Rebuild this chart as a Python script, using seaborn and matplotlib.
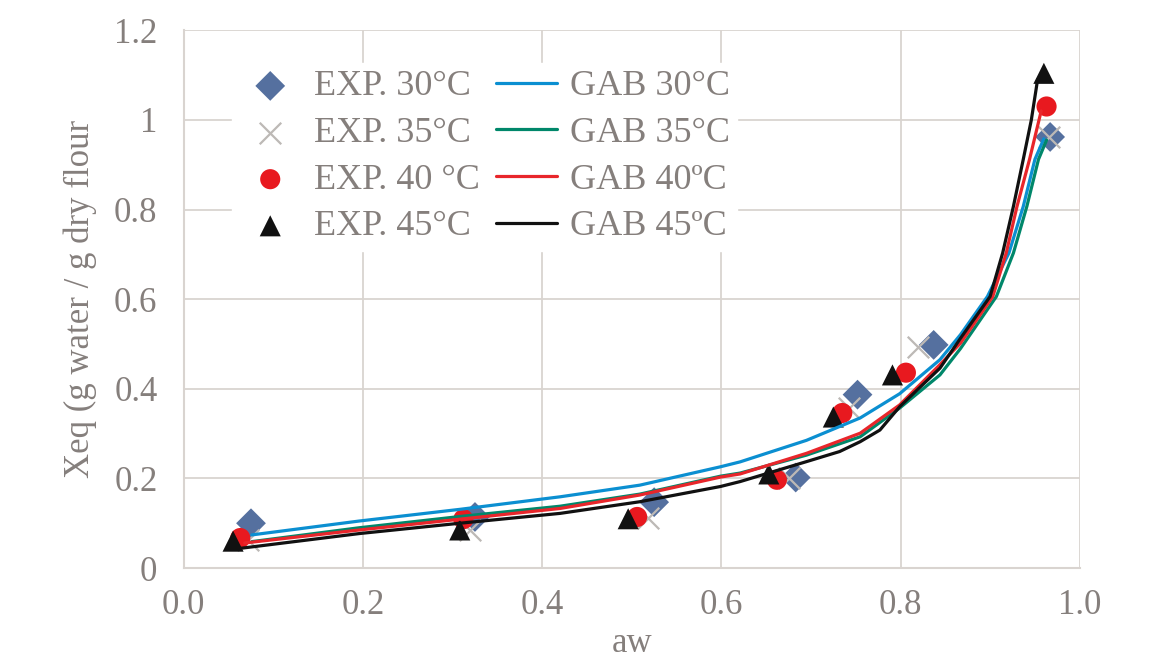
import pandas as pd
import matplotlib.pyplot as plt
import seaborn as sns

exp30_aw = [0.075, 0.325, 0.525, 0.683, 0.752, 0.837, 0.967]
exp30_x = [0.100, 0.114, 0.147, 0.202, 0.387, 0.498, 0.962]
exp35_aw = [0.072, 0.320, 0.518, 0.675, 0.742, 0.820, 0.966]
exp35_x = [0.063, 0.085, 0.112, 0.200, 0.358, 0.494, 0.962]
exp40_aw = [0.063, 0.312, 0.506, 0.662, 0.735, 0.806, 0.963]
exp40_x = [0.067, 0.109, 0.114, 0.197, 0.346, 0.436, 1.030]
exp45_aw = [0.055, 0.308, 0.496, 0.653, 0.725, 0.791, 0.960]
exp45_x = [0.060, 0.085, 0.110, 0.210, 0.337, 0.431, 1.104]

# GAB model curves
gab30_aw = [0.076, 0.196, 0.308, 0.42, 0.509, 0.599, 0.621, 0.695, 0.755, 0.799, 0.844, 0.867,
            0.897, 0.921, 0.937, 0.950, 0.960]
gab30_x = [0.074, 0.105, 0.131, 0.159, 0.185, 0.226, 0.237, 0.285, 0.335, 0.389, 0.465, 0.521,
           0.606, 0.703, 0.807, 0.912, 0.958]
gab35_aw = [0.076, 0.196, 0.308, 0.42, 0.509, 0.599, 0.621, 0.695, 0.755, 0.799, 0.844, 0.867,
            0.907, 0.926, 0.941, 0.954, 0.963]
gab35_x = [0.059, 0.090, 0.115, 0.138, 0.165, 0.205, 0.212, 0.252, 0.293, 0.357, 0.431, 0.490,
           0.606, 0.703, 0.807, 0.912, 0.955]
gab40_aw = [0.068, 0.196, 0.308, 0.42, 0.509, 0.599, 0.621, 0.695, 0.755, 0.799, 0.844, 0.867,
            0.903, 0.918, 0.930, 0.944, 0.957]
gab40_x = [0.056, 0.085, 0.109, 0.133, 0.163, 0.203, 0.210, 0.256, 0.301, 0.364, 0.454, 0.502,
           0.606, 0.703, 0.807, 0.912, 1.020]
gab45_aw = [0.055, 0.196, 0.308, 0.42, 0.509, 0.599, 0.621, 0.695, 0.732, 0.755, 0.777, 0.799,
            0.844, 0.866, 0.900, 0.914, 0.926, 0.937, 0.946, 0.953]
gab45_x = [0.042, 0.077, 0.100, 0.122, 0.148, 0.182, 0.193, 0.2375, 0.260, 0.282, 0.308, 0.360,
           0.446, 0.510, 0.606, 0.703, 0.807, 0.912, 1.000, 1.090]

x_ticks = [0.0, 0.2, 0.4, 0.6, 0.8, 1.0]
x_labels = ["0.0", "0.2", "0.4", "0.6", "0.8", "1.0"]
y_ticks = [0, 0.2, 0.4, 0.6, 0.8, 1.0, 1.2]
y_labels = ["0", "0.2", "0.4", "0.6", "0.8", "1", "1.2"]

sns.set_style("white")
SERIF = ['Liberation Serif', 'DejaVu Serif']
plt.rcParams['font.family'] = SERIF
TXT = "#857f7c"
GRID = "#d9d4d0"

fig = plt.figure(figsize=(11.56, 6.59), dpi=100)
ax = fig.add_axes([0.159, 0.138, 0.775, 0.816])

exp_sets = [
    ("EXP. 30°C", exp30_aw, exp30_x, "D", "#55709f", 230, 0),
    ("EXP. 35°C", exp35_aw, exp35_x, "x", "#bdb9b6", 240, 1.6),
    ("EXP. 40 °C", exp40_aw, exp40_x, "o", "#e8191f", 210, 0),
    ("EXP. 45°C", exp45_aw, exp45_x, "^", "#111111", 230, 0),
]
for label, xs, ys, mk, col, size, lw in exp_sets:
    df = pd.DataFrame({"aw": xs, "X": ys})
    sns.scatterplot(data=df, x="aw", y="X", marker=mk, color=col, s=size,
                    linewidth=lw, edgecolor="none" if lw == 0 else col,
                    label=label, ax=ax, zorder=3)

gab_sets = [
    ("GAB 30°C", gab30_aw, gab30_x, "#0b8fd1"),
    ("GAB 35°C", gab35_aw, gab35_x, "#00876a"),
    ("GAB 40ºC", gab40_aw, gab40_x, "#e8262b"),
    ("GAB 45ºC", gab45_aw, gab45_x, "#111111"),
]
for label, xs, ys, col in gab_sets:
    df = pd.DataFrame({"aw": xs, "X": ys})
    sns.lineplot(data=df, x="aw", y="X", color=col, linewidth=2.3, sort=False,
                 estimator=None, label=label, ax=ax, zorder=4)

ax.set_xlim(0, 1.0)
ax.set_ylim(0, 1.2)
ax.set_xticks(x_ticks)
ax.set_xticklabels(x_labels, family=SERIF)
ax.set_yticks(y_ticks)
ax.set_yticklabels(y_labels, family=SERIF)
ax.grid(True, color=GRID, linewidth=1.3)
ax.tick_params(axis="both", length=0, labelsize=25, labelcolor=TXT)
ax.tick_params(axis="y", pad=19)
ax.tick_params(axis="x", pad=15)
for side in ["left", "bottom", "right", "top"]:
    ax.spines[side].set_visible(side in ("left", "bottom"))
    ax.spines[side].set_color(GRID)
    ax.spines[side].set_linewidth(1.5)

ax.set_xlabel("aw", fontsize=25, color=TXT, labelpad=4, family=SERIF)
ax.set_ylabel("Xeq (g water / g dry flour", fontsize=25, color=TXT, labelpad=12, family=SERIF)

leg = ax.legend(ncol=2, loc="upper left", bbox_to_anchor=(0.034, 0.973),
                prop={"family": SERIF, "size": 26}, frameon=True, framealpha=1,
                edgecolor="white", facecolor="white", handlelength=1.7,
                handletextpad=0.35, columnspacing=0.45, labelspacing=0.37, borderpad=0.2)
for t in leg.get_texts():
    t.set_color(TXT)

plt.savefig("out.png", dpi=100)
plt.close()
